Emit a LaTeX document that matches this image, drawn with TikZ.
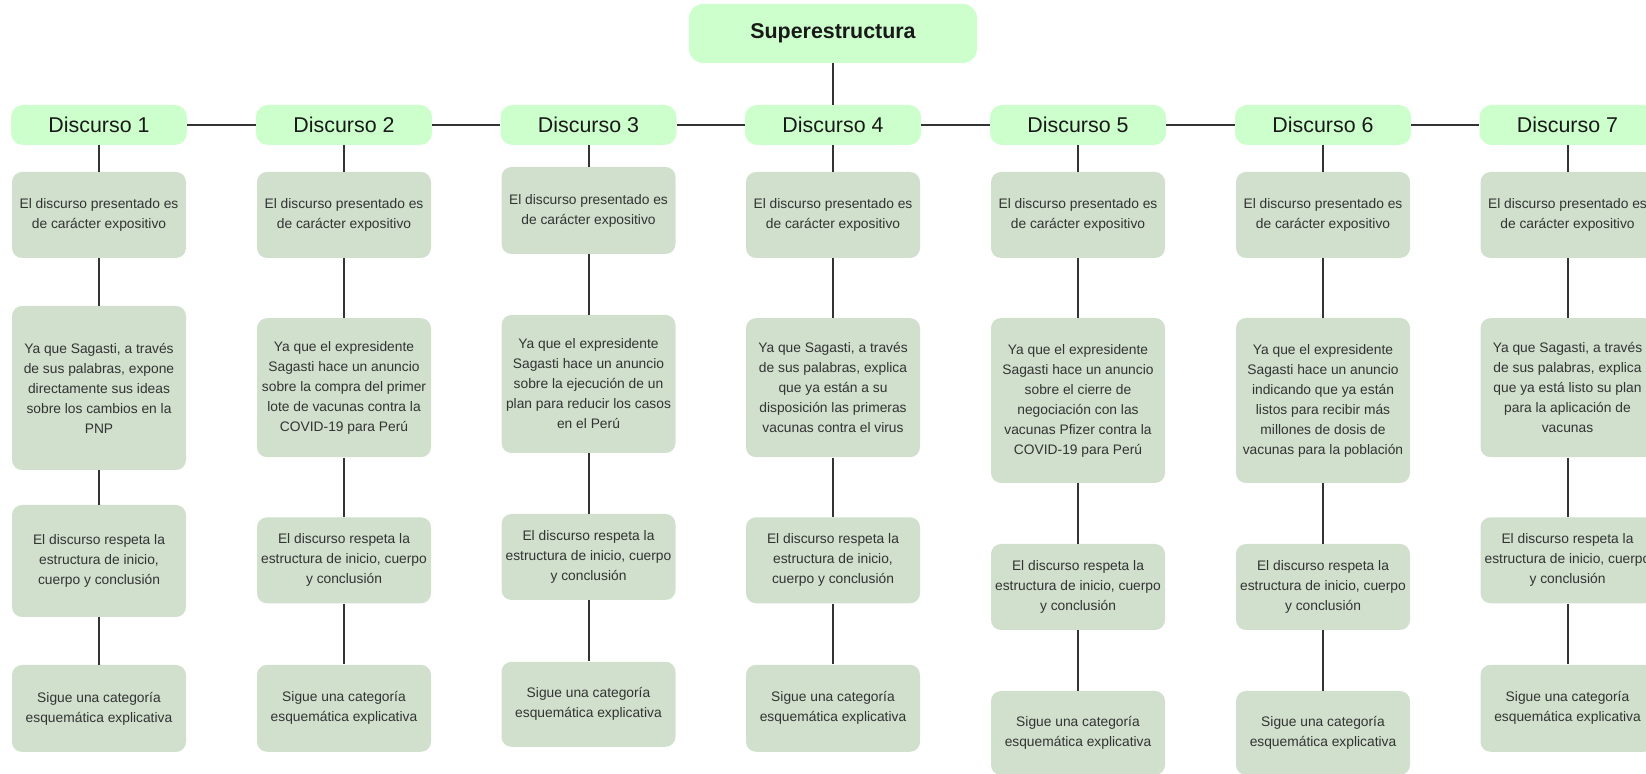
\documentclass[tikz,border=0pt]{standalone}
\usepackage{fontspec}
\setmainfont{Liberation Sans}
\usetikzlibrary{positioning}

\begin{document}
\begin{tikzpicture}[x=0.5pt, y=-0.5pt]

\definecolor{headgreen}{RGB}{204, 255, 204}
\definecolor{sage}{RGB}{208, 224, 205}
\definecolor{linegray}{RGB}{51, 51, 51}

% Page frame
\useasboundingbox (0,0) rectangle (1646,774);
\clip (0,0) rectangle (1646,774);

\tikzset{
    title/.style={
        fill=headgreen, rounded corners=7pt,
        minimum width=144pt, minimum height=29.5pt,
        font=\bfseries\fontsize{10.7}{12}\selectfont, text=black!90
    },
    discurso/.style={
        fill=headgreen, rounded corners=6pt,
        minimum width=88pt, minimum height=20pt,
        font=\fontsize{10.7}{12}\selectfont, text=black!90
    },
    idea/.style={
        fill=sage, rounded corners=5pt, inner sep=2pt,
        minimum width=87pt, align=center,
        font=\fontsize{6.9}{10}\selectfont, text=black!80
    },
    link/.style={
        draw=linegray, line width=1pt
    }
}

% --- TOP: superstructure and the seven speeches ---
\node[title] (Super) at (833, 33.5) {Superestructura};

\node[discurso] (D1) at (99, 125) {Discurso 1};
\node[discurso] (D2) at (344, 125) {Discurso 2};
\node[discurso] (D3) at (588.5, 125) {Discurso 3};
\node[discurso] (D4) at (833, 125) {Discurso 4};
\node[discurso] (D5) at (1078, 125) {Discurso 5};
\node[discurso] (D6) at (1323, 125) {Discurso 6};
\node[discurso] (D7) at (1567.5, 125) {Discurso 7};

\draw[link] (Super) -- (D4);
\draw[link] (D1) -- (D2); \draw[link] (D2) -- (D3); \draw[link] (D3) -- (D4);
\draw[link] (D4) -- (D5); \draw[link] (D5) -- (D6); \draw[link] (D6) -- (D7);

% --- Discurso 1 ---
\node[idea, minimum height=43pt] (E1) at (99, 215) {El discurso presentado es\\de carácter expositivo};
\node[idea, minimum height=82pt] (Y1) at (99, 388) {Ya que Sagasti, a través\\de sus palabras, expone\\directamente sus ideas\\sobre los cambios en la\\PNP};
\node[idea, minimum height=56pt] (R1) at (99, 561) {El discurso respeta la\\estructura de inicio,\\cuerpo y conclusión};
\node[idea, minimum height=43.5pt] (S1) at (99, 708.5) {Sigue una categoría\\esquemática explicativa};
\draw[link] (D1) -- (E1); \draw[link] (E1) -- (Y1); \draw[link] (Y1) -- (R1); \draw[link] (R1) -- (S1);

% --- Discurso 2 ---
\node[idea, minimum height=43pt] (E2) at (344, 215) {El discurso presentado es\\de carácter expositivo};
\node[idea, minimum height=69.5pt] (Y2) at (344, 387.7) {Ya que el expresidente\\Sagasti hace un anuncio\\sobre la compra del primer\\lote de vacunas contra la\\COVID-19 para Perú};
\node[idea, minimum height=43pt] (R2) at (344, 560.3) {El discurso respeta la\\estructura de inicio, cuerpo\\y conclusión};
\node[idea, minimum height=43.5pt] (S2) at (344, 708.3) {Sigue una categoría\\esquemática explicativa};
\draw[link] (D2) -- (E2); \draw[link] (E2) -- (Y2); \draw[link] (Y2) -- (R2); \draw[link] (R2) -- (S2);

% --- Discurso 3 ---
\node[idea, minimum height=43.5pt] (E3) at (588.5, 210.5) {El discurso presentado es\\de carácter expositivo};
\node[idea, minimum height=69pt] (Y3) at (588.5, 384) {Ya que el expresidente\\Sagasti hace un anuncio\\sobre la ejecución de un\\plan para reducir los casos\\en el Perú};
\node[idea, minimum height=43pt] (R3) at (588.5, 557) {El discurso respeta la\\estructura de inicio, cuerpo\\y conclusión};
\node[idea, minimum height=42.5pt] (S3) at (588.5, 704.3) {Sigue una categoría\\esquemática explicativa};
\draw[link] (D3) -- (E3); \draw[link] (E3) -- (Y3); \draw[link] (Y3) -- (R3); \draw[link] (R3) -- (S3);

% --- Discurso 4 ---
\node[idea, minimum height=43pt] (E4) at (833, 215) {El discurso presentado es\\de carácter expositivo};
\node[idea, minimum height=69.5pt] (Y4) at (833, 387.7) {Ya que Sagasti, a través\\de sus palabras, explica\\que ya están a su\\disposición las primeras\\vacunas contra el virus};
\node[idea, minimum height=43pt] (R4) at (833, 560.3) {El discurso respeta la\\estructura de inicio,\\cuerpo y conclusión};
\node[idea, minimum height=43.5pt] (S4) at (833, 708.3) {Sigue una categoría\\esquemática explicativa};
\draw[link] (D4) -- (E4); \draw[link] (E4) -- (Y4); \draw[link] (Y4) -- (R4); \draw[link] (R4) -- (S4);

% --- Discurso 5 ---
\node[idea, minimum height=43pt] (E5) at (1078, 215) {El discurso presentado es\\de carácter expositivo};
\node[idea, minimum height=82.5pt] (Y5) at (1078, 400.5) {Ya que el expresidente\\Sagasti hace un anuncio\\sobre el cierre de\\negociación con las\\vacunas Pfizer contra la\\COVID-19 para Perú};
\node[idea, minimum height=43pt] (R5) at (1078, 587) {El discurso respeta la\\estructura de inicio, cuerpo\\y conclusión};
\node[idea, minimum height=42pt] (S5) at (1078, 733) {Sigue una categoría\\esquemática explicativa};
\draw[link] (D5) -- (E5); \draw[link] (E5) -- (Y5); \draw[link] (Y5) -- (R5); \draw[link] (R5) -- (S5);

% --- Discurso 6 ---
\node[idea, minimum height=43pt] (E6) at (1323, 215) {El discurso presentado es\\de carácter expositivo};
\node[idea, minimum height=82.5pt] (Y6) at (1323, 400.5) {Ya que el expresidente\\Sagasti hace un anuncio\\indicando que ya están\\listos para recibir más\\millones de dosis de\\vacunas para la población};
\node[idea, minimum height=43pt] (R6) at (1323, 587) {El discurso respeta la\\estructura de inicio, cuerpo\\y conclusión};
\node[idea, minimum height=42pt] (S6) at (1323, 733) {Sigue una categoría\\esquemática explicativa};
\draw[link] (D6) -- (E6); \draw[link] (E6) -- (Y6); \draw[link] (Y6) -- (R6); \draw[link] (R6) -- (S6);

% --- Discurso 7 ---
\node[idea, minimum height=43pt] (E7) at (1567.5, 215) {El discurso presentado es\\de carácter expositivo};
\node[idea, minimum height=69.5pt] (Y7) at (1567.5, 387.7) {Ya que Sagasti, a través\\de sus palabras, explica\\que ya está listo su plan\\para la aplicación de\\vacunas};
\node[idea, minimum height=43pt] (R7) at (1567.5, 560.3) {El discurso respeta la\\estructura de inicio, cuerpo\\y conclusión};
\node[idea, minimum height=43.5pt] (S7) at (1567.5, 708.3) {Sigue una categoría\\esquemática explicativa};
\draw[link] (D7) -- (E7); \draw[link] (E7) -- (Y7); \draw[link] (Y7) -- (R7); \draw[link] (R7) -- (S7);

\end{tikzpicture}
\end{document}
